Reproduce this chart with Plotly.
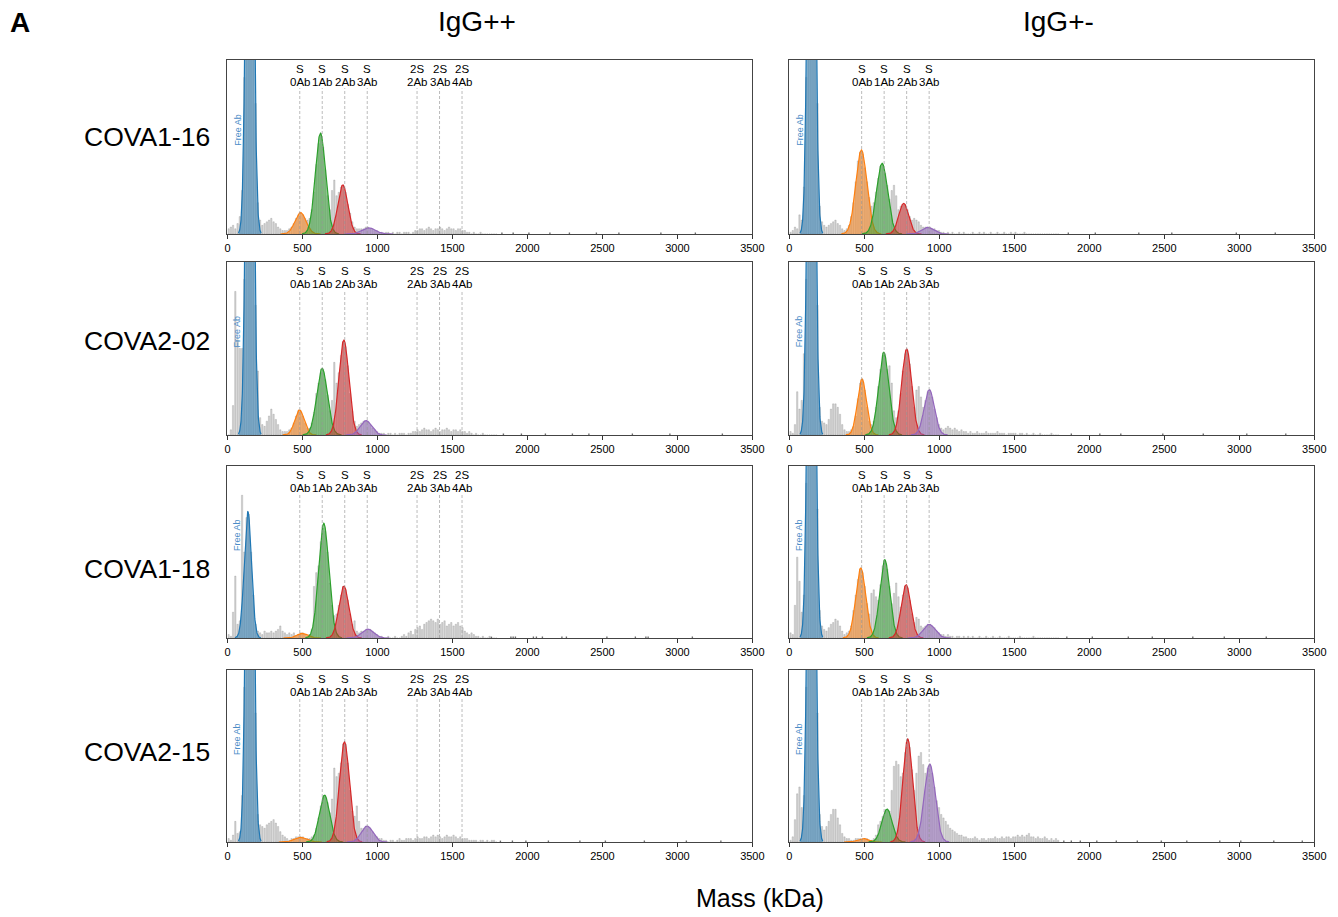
import numpy as np
import plotly.graph_objects as go

# ---------------- data ----------------
BIN_WIDTH = 15  # kDa, histogram bin width; bins start at 0 kDa
# histogram heights in % of panel height (values > 100 are clipped at the top)
hist_cova1_16_pp = [
    3, 4, 5, 3, 6, 10, 25, 90, 150, 150,
    150, 150, 75, 18, 8, 5, 6, 7, 8, 9,
    7, 6, 4, 3, 2, 2, 2, 3, 4, 6,
    9, 11, 12, 11, 9, 8, 9, 14, 24, 40,
    52, 58, 50, 37, 22, 14, 25, 31, 22, 24,
    27, 28, 24, 17, 12, 7, 4, 3, 3, 3,
    3, 4, 4, 3, 3, 2, 2, 1, 1, 0,
    1, 1, 0, 1, 0, 1, 1, 0, 1, 1,
    1, 0, 1, 2, 2, 3, 3, 2, 3, 4,
    3, 2, 3, 3, 4, 3, 2, 3, 4, 3,
    3, 2, 3, 3, 2, 2, 1, 1, 0, 1,
    0, 0, 1, 0, 0, 0, 0, 0, 0, 0]
hist_cova1_16_pm = [
    1, 2, 4, 3, 11, 8, 27, 90, 150, 150,
    150, 150, 75, 16, 7, 5, 4, 5, 6, 7,
    8, 6, 5, 3, 2, 3, 5, 10, 18, 30,
    42, 47, 46, 38, 30, 21, 16, 18, 24, 32,
    39, 40, 35, 28, 20, 25, 28, 22, 14, 16,
    17, 17, 14, 10, 8, 9, 8, 7, 5, 4,
    4, 4, 4, 3, 3, 2, 2, 1, 1, 0,
    1, 0, 1, 0, 0, 1, 0, 1, 0, 0,
    0, 1, 0, 0, 1, 0, 1, 0, 0, 1,
    0, 0, 1, 0, 0, 1, 0, 0, 1, 0,
    1, 0, 0, 0, 1, 0, 0, 0, 0, 0,
    0, 0, 0, 0, 0, 0, 0, 0, 0, 0]
hist_cova2_02_pp = [
    0, 3, 17, 83, 55, 50, 50, 90, 150, 150,
    150, 150, 75, 37, 10, 6, 5, 8, 11, 15,
    12, 9, 6, 3, 2, 2, 2, 3, 4, 7,
    11, 14, 14, 11, 7, 4, 4, 7, 13, 24,
    30, 36, 38, 32, 23, 14, 20, 42, 30, 36,
    46, 54, 51, 40, 24, 14, 8, 5, 6, 7,
    8, 8, 8, 6, 4, 3, 2, 1, 1, 1,
    0, 1, 1, 0, 1, 0, 1, 1, 1, 0,
    1, 1, 2, 2, 3, 2, 3, 4, 3, 3,
    2, 3, 4, 3, 2, 3, 3, 4, 3, 2,
    3, 3, 2, 3, 2, 2, 1, 2, 1, 0,
    1, 0, 0, 1, 0, 0, 0, 0, 0, 0]
hist_cova2_02_pm = [
    2, 1, 6, 25, 15, 20, 47, 90, 150, 150,
    150, 150, 75, 16, 8, 7, 6, 9, 15, 18,
    18, 16, 12, 6, 3, 2, 2, 3, 5, 11,
    21, 30, 32, 26, 16, 8, 6, 8, 16, 28,
    38, 46, 47, 38, 40, 30, 14, 10, 14, 24,
    37, 47, 49, 41, 28, 16, 26, 28, 22, 16,
    20, 25, 26, 22, 15, 10, 6, 4, 3, 4,
    5, 4, 3, 4, 3, 2, 3, 2, 2, 1,
    2, 1, 1, 2, 1, 1, 1, 2, 1, 1,
    1, 1, 2, 1, 1, 1, 0, 1, 1, 1,
    1, 0, 1, 1, 0, 1, 0, 0, 1, 0,
    0, 1, 0, 0, 0, 0, 1, 0, 0, 0]
hist_cova1_18_pp = [
    2, 1, 15, 36, 8, 10, 83, 50, 70, 72,
    50, 25, 8, 4, 3, 2, 4, 3, 3, 4,
    3, 4, 5, 7, 4, 3, 2, 3, 2, 3,
    1, 2, 3, 3, 2, 1, 2, 5, 30, 38,
    42, 56, 64, 62, 50, 32, 19, 13, 14, 19,
    25, 30, 28, 22, 14, 8, 10, 4, 3, 4,
    4, 5, 5, 5, 4, 3, 2, 1, 1, 0,
    0, 1, 0, 0, 1, 0, 0, 1, 2, 1,
    3, 4, 2, 5, 6, 7, 5, 8, 9, 10,
    11, 10, 9, 11, 8, 9, 10, 7, 8, 9,
    7, 8, 9, 7, 6, 4, 3, 2, 3, 2,
    1, 1, 0, 1, 0, 0, 1, 0, 0, 0]
hist_cova1_18_pm = [
    3, 2, 19, 47, 33, 15, 25, 90, 150, 150,
    150, 150, 75, 16, 7, 5, 4, 6, 8, 9,
    11, 10, 7, 4, 2, 3, 4, 7, 16, 25,
    34, 40, 38, 30, 20, 14, 26, 28, 24, 22,
    31, 42, 45, 40, 30, 20, 26, 32, 24, 18,
    25, 30, 29, 22, 14, 9, 12, 11, 7, 6,
    7, 8, 8, 7, 6, 4, 3, 2, 2, 1,
    2, 1, 1, 0, 1, 1, 0, 1, 0, 1,
    0, 1, 0, 0, 1, 0, 0, 1, 0, 0,
    1, 0, 0, 1, 0, 0, 0, 1, 0, 0,
    0, 0, 1, 0, 0, 0, 0, 0, 1, 0,
    0, 0, 0, 0, 0, 0, 0, 0, 0, 0]
hist_cova2_15_pp = [
    2, 1, 4, 12, 5, 6, 27, 90, 150, 150,
    150, 150, 75, 16, 10, 9, 8, 10, 11, 12,
    13, 11, 9, 6, 4, 3, 2, 1, 2, 2,
    3, 3, 3, 3, 2, 2, 2, 3, 4, 8,
    14, 21, 26, 27, 23, 17, 25, 43, 38, 40,
    46, 57, 57, 46, 30, 18, 15, 21, 12, 8,
    8, 9, 9, 8, 6, 4, 3, 2, 2, 1,
    1, 0, 1, 1, 0, 1, 2, 1, 1, 2,
    2, 2, 1, 2, 3, 2, 2, 3, 3, 2,
    3, 4, 3, 4, 3, 2, 3, 4, 3, 3,
    4, 3, 2, 3, 2, 2, 2, 1, 1, 1,
    1, 0, 1, 1, 0, 1, 0, 1, 1, 0]
hist_cova2_15_pm = [
    1, 3, 13, 28, 32, 20, 27, 90, 150, 150,
    150, 150, 75, 16, 9, 7, 9, 12, 16, 19,
    19, 14, 10, 5, 3, 2, 2, 1, 1, 2,
    2, 2, 2, 2, 2, 1, 1, 2, 4, 10,
    12, 15, 18, 19, 18, 30, 44, 47, 45, 38,
    40, 52, 60, 55, 42, 30, 40, 50, 52, 45,
    40, 43, 45, 40, 32, 24, 20, 16, 14, 12,
    10, 8, 7, 6, 5, 4, 4, 3, 3, 2,
    2, 2, 3, 2, 1, 2, 2, 1, 2, 2,
    2, 3, 2, 2, 3, 2, 3, 3, 2, 3,
    3, 4, 3, 4, 3, 4, 5, 3, 3, 2,
    3, 2, 2, 3, 2, 1, 2, 1, 2, 1]

# sparse single events beyond 1800 kDa (positions in kDa)
tail_cova1_16_pp = [1830, 1905, 2010, 2150, 2280, 2460, 2610, 2890, 3120]
tail_cova1_16_pm = [1860, 2040, 2330, 2550, 2980, 3240]
tail_cova2_02_pp = [1840, 1960, 2120, 2300, 2410, 2700, 2950, 3300]
tail_cova2_02_pm = [1880, 2070, 2210, 2490, 2760, 3050, 3310]
tail_cova1_18_pp = [1760, 1890, 1905, 1920, 2040, 2060, 2100, 2230, 2260, 2530, 2720, 2790, 2805, 3100]
tail_cova1_18_pm = [1850, 2020, 2260, 2420, 2690, 2900, 3180]
tail_cova2_15_pp = [1820, 1900, 1990, 2140, 2350, 2520, 2780, 3060, 3290]
tail_cova2_15_pm = [1830, 1880, 1940, 2050, 2180, 2320, 2480, 2650, 2870, 3010, 3230, 3420]
TAIL_HEIGHT = 0.8  # % of panel

# Gaussian fits: [Free Ab, S 0Ab, S 1Ab, S 2Ab, S 3Ab]
fit_centers = {
    "cova1_16_pp": [149, 487, 620, 769, 942],
    "cova1_16_pm": [147, 480, 618, 762, 922],
    "cova2_02_pp": [149, 480, 631, 776, 924],
    "cova2_02_pm": [147, 484, 629, 782, 933],
    "cova1_18_pp": [136, 498, 642, 776, 936],
    "cova1_18_pm": [147, 476, 636, 778, 933],
    "cova2_15_pp": [149, 487, 647, 780, 931],
    "cova2_15_pm": [147, 491, 651, 789, 936],
}
fit_sigmas = {
    "cova1_16_pp": [21, 37, 34, 33, 45],
    "cova1_16_pm": [21, 37, 37, 33, 40],
    "cova2_02_pp": [21, 31, 36, 33, 38],
    "cova2_02_pm": [21, 30, 34, 33, 34],
    "cova1_18_pp": [24, 35, 34, 33, 40],
    "cova1_18_pm": [21, 33, 33, 32, 40],
    "cova2_15_pp": [21, 40, 34, 33, 38],
    "cova2_15_pm": [21, 35, 34, 32, 36],
}
fit_amplitudes = {  # fraction of panel height
    "cova1_16_pp": [4.0, 0.123, 0.579, 0.282, 0.035],
    "cova1_16_pm": [4.0, 0.483, 0.406, 0.176, 0.038],
    "cova2_02_pp": [4.0, 0.145, 0.385, 0.549, 0.083],
    "cova2_02_pm": [4.0, 0.324, 0.478, 0.497, 0.262],
    "cova1_18_pp": [0.735, 0.027, 0.667, 0.302, 0.052],
    "cova1_18_pm": [4.0, 0.407, 0.455, 0.310, 0.079],
    "cova2_15_pp": [4.0, 0.027, 0.273, 0.583, 0.093],
    "cova2_15_pm": [4.0, 0.021, 0.192, 0.599, 0.453],
}

antibodies = ["COVA1-16", "COVA2-02", "COVA1-18", "COVA2-15"]
conditions = ["IgG++", "IgG+-"]
panel_keys = [["cova1_16_pp", "cova1_16_pm"], ["cova2_02_pp", "cova2_02_pm"],
              ["cova1_18_pp", "cova1_18_pm"], ["cova2_15_pp", "cova2_15_pm"]]
hists = {
    "cova1_16_pp": hist_cova1_16_pp, "cova1_16_pm": hist_cova1_16_pm,
    "cova2_02_pp": hist_cova2_02_pp, "cova2_02_pm": hist_cova2_02_pm,
    "cova1_18_pp": hist_cova1_18_pp, "cova1_18_pm": hist_cova1_18_pm,
    "cova2_15_pp": hist_cova2_15_pp, "cova2_15_pm": hist_cova2_15_pm,
}
tails = {
    "cova1_16_pp": tail_cova1_16_pp, "cova1_16_pm": tail_cova1_16_pm,
    "cova2_02_pp": tail_cova2_02_pp, "cova2_02_pm": tail_cova2_02_pm,
    "cova1_18_pp": tail_cova1_18_pp, "cova1_18_pm": tail_cova1_18_pm,
    "cova2_15_pp": tail_cova2_15_pp, "cova2_15_pm": tail_cova2_15_pm,
}

# reference masses (kDa) and their labels
marker_masses = [482, 632, 782, 932, 1264, 1414, 1564]
marker_top = ["S", "S", "S", "S", "2S", "2S", "2S"]
marker_bottom = ["0Ab", "1Ab", "2Ab", "3Ab", "2Ab", "3Ab", "4Ab"]
xticks = [0, 500, 1000, 1500, 2000, 2500, 3000, 3500]

# ---------------- styling ----------------
W, H = 1338, 917
FONT = "Liberation Sans, Arial, Helvetica, sans-serif"
fit_colors = [(31, 119, 180), (255, 127, 14), (44, 160, 44), (214, 39, 40), (148, 103, 189)]
col_px = [(227, 752), (789, 1314)]
row_px = [(60, 234), (262, 435), (466, 638), (670, 842)]
rowlabel_y = [137, 341, 569, 752]
title_x = [477, 1058]

# horizontal pixel -> paper fraction (corrects the slight horizontal squeeze seen in rendering)
X_SCALE, X_OFF = 0.98896, 2.5


def px_x(x):
    return (x - X_OFF) / (X_SCALE * W)


def px_y(y):
    return 1 - y / H


fig = go.Figure()
layout = dict(width=W, height=H, autosize=False, margin=dict(l=0, r=0, t=0, b=0, pad=0),
              paper_bgcolor="white", plot_bgcolor="white", showlegend=False,
              font=dict(family=FONT, color="black"), barmode="overlay")
annotations = []
shapes = []

k = 0
for r in range(4):
    for c in range(2):
        k += 1
        key = panel_keys[r][c]
        xa = "x" if k == 1 else f"x{k}"
        ya = "y" if k == 1 else f"y{k}"
        xname = "xaxis" if k == 1 else f"xaxis{k}"
        yname = "yaxis" if k == 1 else f"yaxis{k}"

        h = np.array(hists[key], dtype=float) / 100.0
        centers = np.arange(len(h)) * BIN_WIDTH + BIN_WIDTH / 2
        fig.add_trace(go.Bar(x=centers, y=h, width=BIN_WIDTH * 0.6,
                             marker=dict(color="rgba(185,185,185,0.6)",
                                         line=dict(color="rgba(130,130,130,0.55)", width=0.5)),
                             xaxis=xa, yaxis=ya, hoverinfo="skip"))
        t = tails[key]
        fig.add_trace(go.Bar(x=t, y=[TAIL_HEIGHT / 100.0] * len(t), width=BIN_WIDTH * 0.6,
                             marker=dict(color="rgba(90,90,90,0.9)", line=dict(width=0)),
                             xaxis=xa, yaxis=ya, hoverinfo="skip"))

        for (mu, sg, amp, col) in zip(fit_centers[key], fit_sigmas[key], fit_amplitudes[key], fit_colors):
            xs = np.linspace(max(0, mu - 3.6 * sg), mu + 3.6 * sg, 160)
            ys = amp * np.exp(-0.5 * ((xs - mu) / sg) ** 2)
            fig.add_trace(go.Scatter(x=xs, y=ys, mode="lines", fill="tozeroy",
                                     fillcolor=f"rgba({col[0]},{col[1]},{col[2]},0.5)",
                                     line=dict(color=f"rgb({col[0]},{col[1]},{col[2]})", width=1.2),
                                     xaxis=xa, yaxis=ya, hoverinfo="skip"))

        x0, x1 = col_px[c]
        ytop, ybot = row_px[r]
        layout[xname] = dict(domain=[px_x(x0), px_x(x1)], range=[0, 3500], anchor=ya,
                             tickvals=xticks, ticktext=[str(v) for v in xticks],
                             ticks="outside", ticklen=4, tickwidth=1, tickcolor="#333",
                             showline=True, mirror=True, linecolor="#444", linewidth=1,
                             showgrid=False, zeroline=False,
                             tickfont=dict(size=11, color="black", family=FONT))
        layout[yname] = dict(domain=[px_y(ybot), px_y(ytop)], range=[0, 1], anchor=xa,
                             showticklabels=False, ticks="", showline=True, mirror=True,
                             linecolor="#444", linewidth=1, showgrid=False, zeroline=False)

        panel_h = ybot - ytop
        nmark = 7 if c == 0 else 4
        line_top = 1 - 28.0 / panel_h
        for i in range(nmark):
            m = marker_masses[i]
            shapes.append(dict(type="line", xref=xa, yref=f"{ya} domain", x0=m, x1=m,
                               y0=0, y1=line_top,
                               line=dict(color="rgba(150,150,150,0.8)", width=0.8, dash="3px,2px")))
            annotations.append(dict(x=m, xref=xa, y=1 - 9.0 / panel_h, yref=f"{ya} domain",
                                    text=marker_top[i], showarrow=False, xanchor="center",
                                    yanchor="middle", font=dict(size=11.5, family=FONT, color="black")))
            annotations.append(dict(x=m, xref=xa, y=1 - 22.0 / panel_h, yref=f"{ya} domain",
                                    text=marker_bottom[i], showarrow=False, xanchor="center",
                                    yanchor="middle", font=dict(size=11.5, family=FONT, color="black")))
        annotations.append(dict(x=65, xref=xa, y=0.6, yref=f"{ya} domain", text="Free Ab",
                                textangle=-90, showarrow=False, xanchor="center", yanchor="middle",
                                font=dict(size=9, family=FONT, color="#4a8cc7")))

# figure-level texts
annotations.append(dict(x=px_x(20), y=px_y(22), xref="paper", yref="paper", text="<b>A</b>",
                        showarrow=False, xanchor="center", yanchor="middle",
                        font=dict(size=28, family=FONT, color="black")))
for c, name in enumerate(conditions):
    annotations.append(dict(x=px_x(title_x[c]), y=px_y(21),
                            xref="paper", yref="paper", text=name, showarrow=False,
                            xanchor="center", yanchor="middle",
                            font=dict(size=28, family=FONT, color="black")))
for r, name in enumerate(antibodies):
    annotations.append(dict(x=px_x(147), y=px_y(rowlabel_y[r]), xref="paper", yref="paper",
                            text=name, showarrow=False, xanchor="center", yanchor="middle",
                            font=dict(size=26.5, family=FONT, color="black")))
annotations.append(dict(x=px_x(760), y=px_y(898), xref="paper", yref="paper", text="Mass (kDa)",
                        showarrow=False, xanchor="center", yanchor="middle",
                        font=dict(size=25, family=FONT, color="black")))

layout["annotations"] = annotations
layout["shapes"] = shapes
fig.update_layout(**layout)
fig.write_html("out.html",
               config={"responsive": False, "displayModeBar": False},
               post_script="document.body.style.margin='0px';document.body.style.overflow='hidden';")
